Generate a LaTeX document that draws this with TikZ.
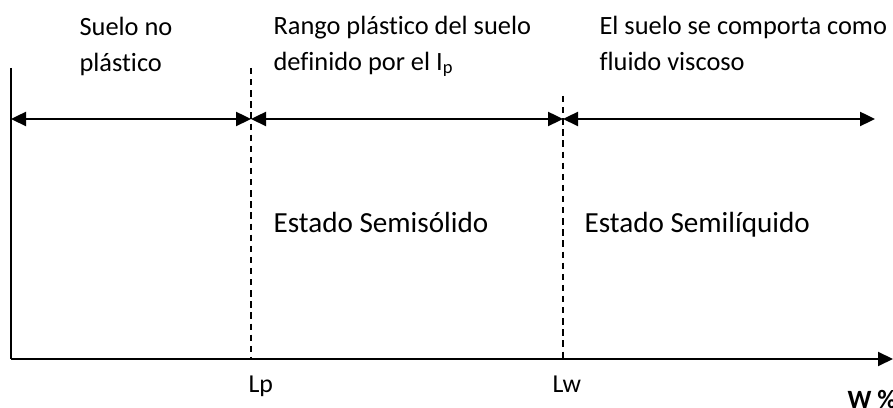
\documentclass[tikz,border=0pt]{standalone}
\usepackage{fontspec}
\setmainfont[Ligatures=NoCommon]{Carlito}
\usetikzlibrary{arrows.meta,positioning}

\begin{document}
\begin{tikzpicture}[x=0.36pt,y=-0.36pt,>={Triangle[length=5.4pt,width=5pt]},
		font=\fontsize{9.5}{13.3}\selectfont,
		tag/.style={anchor=base west,inner sep=0pt,align=left},
		estado/.style={tag,font=\fontsize{10.5}{13.3}\selectfont},
		limite/.style={tag,font=\fontsize{9.3}{12}\selectfont},
		corte/.style={dash pattern=on 2.3pt off 1.7pt,line width=0.6pt},
		rango/.style={<->,line width=1pt},
		eje/.style={line width=0.9pt}]

	\clip (0,0) rectangle (893,408);

	\coordinate (o) at (11,359);
	\coordinate (ytop) at (11,68);
	\coordinate (xend) at (893,359);
	\coordinate (lp) at (251,359);
	\coordinate (lptop) at (251,68);
	\coordinate (lw) at (563,359);
	\coordinate (lwtop) at (563,96);
	\coordinate (r0) at (11,119);
	\coordinate (r1) at (251,119);
	\coordinate (r2) at (563,119);
	\coordinate (r3) at (875,119);

	\draw[eje] (ytop) -- (o);
	\draw[eje,->] (o) -- (xend);
	\draw[corte] (lptop) -- (lp);
	\draw[corte] (lwtop) -- (lw);

	\draw[rango] (r0) -- (r1);
	\draw[rango] (r1) -- (r2);
	\draw[rango] (r2) -- (r3);

	\node[tag] (noplas) at (79,72) {Suelo no\\plástico};
	\node[tag] (plas) at (273,71) {Rango plástico del suelo\\definido por el I\textsubscript{p}};
	\node[tag] (visc) at (599,71) {El suelo se comporta como\\fluido viscoso};
	\node[estado] (semisol) at (273,233) {Estado Semisólido};
	\node[estado] (semiliq) at (584,233) {Estado Semilíquido};
	\node[limite] (tlp) at (248,393) {Lp};
	\node[limite] (tlw) at (552,393) {Lw};
	\node[limite,font=\fontsize{9.5}{12}\selectfont\bfseries] (w) at (847,409) {W \%};
\end{tikzpicture}
\end{document}
